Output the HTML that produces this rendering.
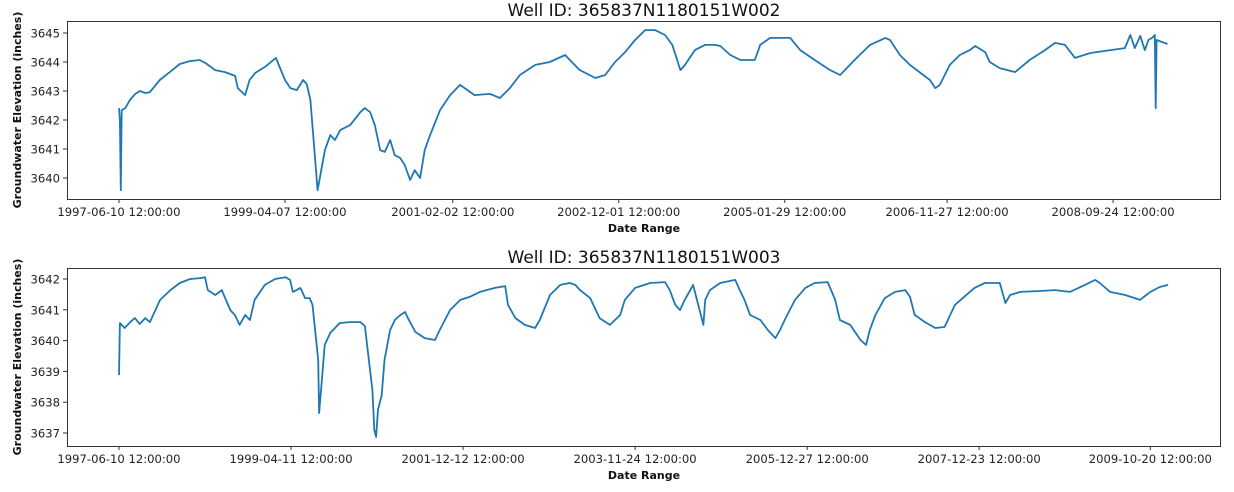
<!DOCTYPE html>
<html><head><meta charset="utf-8"><style>
html,body{margin:0;padding:0;background:#fff;}
svg{display:block;font-family:"DejaVu Sans","Liberation Sans",sans-serif;}
</style></head><body>
<svg id="chart" width="1234" height="492" viewBox="0 0 1234 492" xmlns="http://www.w3.org/2000/svg"></svg>
<script>
const topYears=[1997.44,1997.45,1997.46,1997.47,1997.51,1997.56,1997.62,1997.67,1997.73,1997.78,1997.89,1998.0,1998.11,1998.22,1998.33,1998.39,1998.44,1998.5,1998.61,1998.72,1998.75,1998.83,1998.88,1998.94,1999.05,1999.17,1999.27,1999.33,1999.40,1999.47,1999.51,1999.55,1999.63,1999.71,1999.77,1999.82,1999.88,1999.99,2000.1,2000.15,2000.21,2000.26,2000.32,2000.37,2000.43,2000.48,2000.54,2000.59,2000.65,2000.7,2000.76,2000.81,2000.87,2000.98,2001.09,2001.2,2001.25,2001.36,2001.53,2001.64,2001.75,2001.86,2002.03,2002.19,2002.36,2002.41,2002.52,2002.69,2002.8,2002.91,2003.02,2003.13,2003.24,2003.35,2003.46,2003.54,2003.63,2003.68,2003.79,2003.9,2004.01,2004.07,2004.18,2004.29,2004.45,2004.51,2004.62,2004.84,2004.95,2005.11,2005.28,2005.39,2005.55,2005.72,2005.89,2005.94,2006.05,2006.16,2006.38,2006.44,2006.49,2006.6,2006.71,2006.82,2006.88,2006.99,2007.04,2007.15,2007.32,2007.48,2007.65,2007.76,2007.87,2007.98,2008.15,2008.37,2008.53,2008.59,2008.64,2008.7,2008.75,2008.79,2008.83,2008.86,2008.87,2008.88,2008.94,2009.0];
const topValues=[3642.41,3642.0,3639.58,3642.34,3642.41,3642.69,3642.9,3643.0,3642.93,3642.96,3643.38,3643.65,3643.93,3644.03,3644.07,3643.97,3643.86,3643.72,3643.65,3643.52,3643.1,3642.86,3643.38,3643.62,3643.83,3644.14,3643.38,3643.1,3643.03,3643.38,3643.24,3642.69,3639.58,3640.96,3641.48,3641.31,3641.65,3641.83,3642.27,3642.41,3642.27,3641.83,3640.96,3640.9,3641.31,3640.79,3640.69,3640.45,3639.93,3640.27,3640.0,3640.96,3641.48,3642.34,3642.86,3643.21,3643.1,3642.86,3642.9,3642.76,3643.1,3643.55,3643.9,3644.0,3644.24,3644.07,3643.72,3643.45,3643.55,3644.0,3644.34,3644.76,3645.1,3645.1,3644.93,3644.59,3643.72,3643.9,3644.41,3644.59,3644.59,3644.55,3644.24,3644.07,3644.07,3644.59,3644.83,3644.83,3644.41,3644.07,3643.72,3643.55,3644.07,3644.59,3644.83,3644.76,3644.24,3643.9,3643.38,3643.1,3643.21,3643.9,3644.24,3644.41,3644.55,3644.34,3644.0,3643.79,3643.65,3644.07,3644.41,3644.66,3644.59,3644.14,3644.31,3644.41,3644.48,3644.93,3644.48,3644.9,3644.41,3644.76,3644.83,3644.93,3642.41,3644.76,3644.69,3644.62];
const topTickYears=[1997.44,1999.27,2001.12,2002.95,2004.78,2006.57,2008.4];
const topTickLabels=["1997-06-10 12:00:00","1999-04-07 12:00:00","2001-02-02 12:00:00","2002-12-01 12:00:00","2005-01-29 12:00:00","2006-11-27 12:00:00","2008-09-24 12:00:00"];
const topYTicks=[3640,3641,3642,3643,3644,3645];

const botYears=[1997.44,1997.45,1997.5,1997.56,1997.61,1997.66,1997.72,1997.77,1997.88,1997.99,1998.09,1998.2,1998.31,1998.36,1998.39,1998.47,1998.54,1998.63,1998.68,1998.73,1998.79,1998.84,1998.89,1999.0,1999.11,1999.22,1999.27,1999.3,1999.38,1999.43,1999.48,1999.51,1999.57,1999.58,1999.61,1999.64,1999.7,1999.8,1999.91,2000.02,2000.07,2000.1,2000.15,2000.17,2000.19,2000.21,2000.25,2000.28,2000.34,2000.39,2000.45,2000.5,2000.53,2000.61,2000.71,2000.82,2000.87,2000.98,2001.09,2001.19,2001.3,2001.46,2001.57,2001.6,2001.68,2001.78,2001.89,2001.94,2002.05,2002.16,2002.26,2002.32,2002.37,2002.48,2002.58,2002.69,2002.8,2002.85,2002.96,2003.12,2003.28,2003.33,2003.39,2003.44,2003.49,2003.55,2003.58,2003.65,2003.69,2003.71,2003.76,2003.87,2004.03,2004.08,2004.13,2004.19,2004.3,2004.38,2004.46,2004.51,2004.56,2004.67,2004.78,2004.88,2005.02,2005.1,2005.15,2005.26,2005.37,2005.43,2005.47,2005.53,2005.63,2005.74,2005.85,2005.9,2005.95,2006.06,2006.17,2006.27,2006.38,2006.49,2006.59,2006.7,2006.86,2006.92,2006.97,2007.08,2007.29,2007.45,2007.61,2007.77,2007.88,2007.93,2008.04,2008.2,2008.36,2008.47,2008.57,2008.66];
const botValues=[3638.88,3640.57,3640.41,3640.6,3640.73,3640.54,3640.73,3640.6,3641.32,3641.64,3641.87,3642.0,3642.03,3642.06,3641.64,3641.48,3641.64,3640.99,3640.83,3640.51,3640.83,3640.67,3641.32,3641.81,3642.0,3642.06,3641.97,3641.58,3641.71,3641.38,3641.38,3641.16,3639.37,3637.65,3638.72,3639.86,3640.25,3640.57,3640.6,3640.6,3640.47,3639.69,3638.4,3637.1,3636.87,3637.75,3638.23,3639.37,3640.34,3640.67,3640.83,3640.93,3640.73,3640.28,3640.08,3640.02,3640.34,3640.99,3641.32,3641.42,3641.58,3641.71,3641.77,3641.16,3640.73,3640.51,3640.41,3640.67,3641.48,3641.81,3641.87,3641.81,3641.64,3641.38,3640.73,3640.51,3640.83,3641.32,3641.71,3641.87,3641.9,3641.64,3641.16,3640.99,3641.32,3641.64,3641.81,3640.99,3640.51,3641.32,3641.64,3641.87,3641.97,3641.64,3641.32,3640.83,3640.67,3640.34,3640.08,3640.34,3640.67,3641.32,3641.71,3641.87,3641.9,3641.32,3640.67,3640.51,3640.02,3639.86,3640.34,3640.83,3641.38,3641.58,3641.64,3641.42,3640.83,3640.6,3640.41,3640.44,3641.16,3641.45,3641.71,3641.87,3641.87,3641.22,3641.48,3641.58,3641.61,3641.64,3641.58,3641.81,3641.97,3641.87,3641.58,3641.48,3641.32,3641.58,3641.74,3641.81];
const botTickYears=[1997.44,1999.28,2001.12,2002.96,2004.8,2006.64,2008.47];
const botTickLabels=["1997-06-10 12:00:00","1999-04-11 12:00:00","2001-12-12 12:00:00","2003-11-24 12:00:00","2005-12-27 12:00:00","2007-12-23 12:00:00","2009-10-20 12:00:00"];
const botYTicks=[3637,3638,3639,3640,3641,3642];

const NS="http://www.w3.org/2000/svg";
const svg=document.getElementById('chart');
function mk(tag,attrs,parent){const e=document.createElementNS(NS,tag);for(const k in attrs)e.setAttribute(k,attrs[k]);(parent||svg).appendChild(e);return e;}

function panel(cfg){
  const g=mk('g',{});
  
  
  const xs=yr=>119+(yr-1997.44)*cfg.pxPerYear;
  const ys=v=>cfg.y0px+(cfg.y0val-v)*cfg.pxPerUnit;
  const t=mk('text',{x:644,y:cfg.top-5,'text-anchor':'middle','font-size':'17',fill:'#111'},g);
  t.textContent=cfg.title;
  
  
  let d='';
  cfg.years.forEach((yr,i)=>{d+=(i?'L':'M')+xs(yr).toFixed(1)+','+ys(cfg.values[i]).toFixed(1);});
  const p=mk('path',{d:d,fill:'none',stroke:'#1f77b4','stroke-width':'1.8','stroke-linejoin':'round'},g);
  
  
  const fr=mk('rect',{x:67.5,y:cfg.top+0.5,width:1153,height:cfg.bottom-cfg.top,fill:'none',stroke:'#333','stroke-width':'1'},g);
  
  
  cfg.yTicks.forEach(v=>{
    const y=ys(v);
    mk('line',{x1:63,x2:67,y1:y,y2:y,stroke:'#333'},g);
    const tl=mk('text',{x:60,y:y+4.5,'text-anchor':'end','font-size':'11.6',fill:'#222'},g);
    tl.textContent=v;
    
    
  });
  cfg.tickYears.forEach((yr,i)=>{
    const x=xs(yr);
    mk('line',{x1:x,x2:x,y1:cfg.bottom,y2:cfg.bottom+4,stroke:'#333'},g);
    const tl=mk('text',{x:x,y:cfg.bottom+17,'text-anchor':'middle','font-size':'11.6',fill:'#222'},g);
    tl.textContent=cfg.tickLabels[i];
    
    
  });
  const xl=mk('text',{x:644,y:cfg.bottom+33,'text-anchor':'middle','font-size':'11','font-weight':'bold',fill:'#111'},g);
  xl.textContent='Date Range';
  
  
  const cy=(cfg.top+cfg.bottom)/2;
  const yl=mk('text',{x:21,y:cy,'text-anchor':'middle','font-size':'11','font-weight':'bold',fill:'#111',transform:'rotate(-90 21 '+cy+')'},g);
  yl.textContent='Groundwater Elevation (inches)';
  
  
}
panel({name:'well-w002-chart',title:'Well ID: 365837N1180151W002',top:21,bottom:199,pxPerYear:90.7,y0px:33,y0val:3645,pxPerUnit:29,years:topYears,values:topValues,tickYears:topTickYears,tickLabels:topTickLabels,yTicks:topYTicks});
panel({name:'well-w003-chart',title:'Well ID: 365837N1180151W003',top:268,bottom:446,pxPerYear:93.5,y0px:279,y0val:3642,pxPerUnit:30.8,years:botYears,values:botValues,tickYears:botTickYears,tickLabels:botTickLabels,yTicks:botYTicks});
</script>
</body></html>
